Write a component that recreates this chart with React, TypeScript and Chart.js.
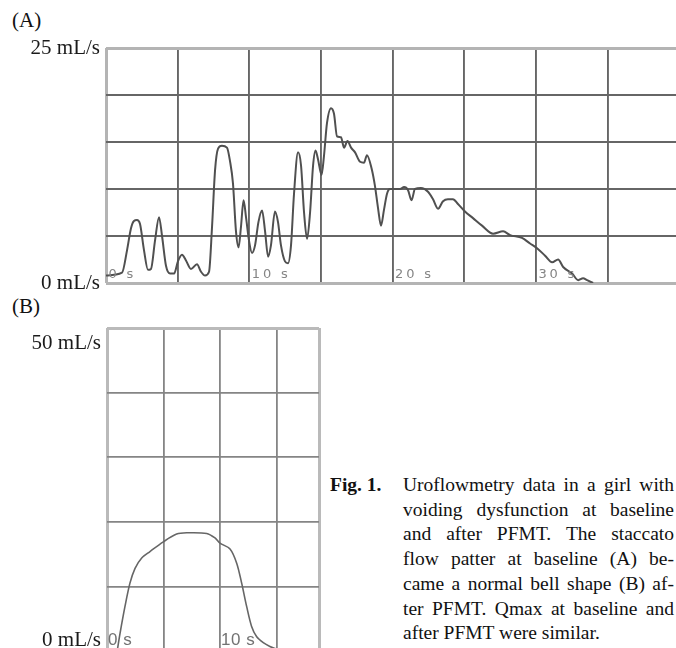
import React, { useEffect, useRef } from 'react';
import { Chart, registerables } from 'chart.js';

Chart.register(...registerables);

// ---- Panel A (baseline) ----
const timeA = [0.0, 1.12, 1.47, 1.74, 1.95, 2.16, 2.37, 2.65, 2.93, 3.14, 3.42, 3.70, 3.91, 4.19, 4.47, 4.75, 5.02, 5.30, 5.58, 5.93, 6.35, 6.63, 6.91, 7.19, 7.40, 7.61, 7.82, 8.09, 8.44, 8.65, 8.86, 9.07, 9.25, 9.42, 9.60, 9.77, 9.98, 10.19, 10.40, 10.64, 10.89, 11.10, 11.31, 11.51, 11.79, 12.00, 12.21, 12.49, 12.70, 12.91, 13.12, 13.40, 13.61, 13.82, 14.03, 14.24, 14.45, 14.62, 14.79, 15.04, 15.21, 15.42, 15.70, 15.91, 16.12, 16.40, 16.61, 16.85, 17.10, 17.38, 17.73, 18.00, 18.21, 18.53, 18.77, 18.98, 19.19, 19.40, 19.61, 19.82, 20.17, 20.52, 20.80, 21.07, 21.32, 21.56, 21.98, 22.47, 22.82, 23.17, 23.52, 23.86, 24.21, 24.56, 25.05, 25.61, 26.24, 27.01, 27.71, 28.20, 29.03, 29.59, 30.08, 30.64, 31.13, 31.55, 31.90, 32.53, 32.95, 33.29, 33.57, 33.99];
const flowA = [0.8, 1.1, 3.5, 5.8, 6.6, 6.7, 6.3, 3.5, 1.4, 1.5, 4.5, 7.0, 5.0, 1.8, 1.0, 1.0, 2.3, 3.0, 2.4, 1.5, 2.0, 1.2, 0.8, 1.2, 6.0, 12.0, 14.3, 14.6, 14.4, 13.0, 10.6, 5.5, 3.8, 6.0, 8.8, 7.0, 4.5, 3.2, 4.0, 6.5, 7.7, 5.5, 2.8, 4.0, 7.6, 6.5, 4.0, 2.3, 2.1, 4.0, 9.5, 13.9, 12.5, 7.5, 4.7, 7.5, 12.5, 14.1, 13.2, 11.5, 13.5, 17.0, 18.6, 18.0, 15.6, 15.5, 14.4, 15.1, 14.4, 13.9, 12.9, 12.8, 13.6, 12.2, 10.3, 8.0, 6.1, 7.8, 9.5, 10.0, 10.0, 10.0, 10.2, 9.9, 8.8, 10.0, 10.1, 9.7, 8.9, 7.9, 8.7, 8.9, 8.9, 8.4, 7.6, 6.9, 6.1, 5.25, 5.5, 5.1, 4.8, 4.2, 3.7, 2.9, 2.2, 2.5, 1.7, 1.0, 0.3, 0.5, 0.3, 0.0];
const xTicksA = [0, 5, 10, 15, 20, 25, 30, 35, 40];
const xLabelsA = [0, 10, 20, 30];
const xMaxA = 41.45;
const yMaxA = 25;
const yStepA = 5;

// ---- Panel B (after PFMT) ----
const timeB = [0.9, 1.15, 1.59, 2.03, 2.48, 3.07, 3.80, 4.98, 6.16, 7.05, 8.82, 9.55, 9.99, 10.88, 11.47, 11.91, 12.35, 12.79, 13.24, 13.82, 14.41, 14.85, 15.47];
const flowB = [0, 2.7, 6.9, 10.5, 12.8, 14.4, 15.4, 16.9, 18.1, 18.3, 18.2, 17.5, 16.7, 15.8, 13.6, 10.5, 6.9, 3.8, 2.2, 1.3, 0.7, 0.4, 0.2];
const xTicksB = [0, 5, 10, 15, 18.75];
const xLabelsB = [0, 10];
const xMaxB = 18.75;
const yMaxB = 50;
const yStepB = 10;

const captionLines = [
  'Uroflowmetry data in a girl with',
  'voiding dysfunction at baseline',
  'and after PFMT. The staccato',
  'flow patter at baseline (A) be-',
  'came a normal bell shape (B) af-',
  'ter PFMT. Qmax at baseline and',
  'after PFMT were similar.',
];

// Draws the time labels inside the plot, just above the baseline, at the x scale's pixels.
const insideLabels = (labels: number[], font: string, color: string, spacing: string, dx: number, dy: number) => ({
  id: 'insideTimeLabels',
  afterDatasetsDraw(chart: any) {
    const { ctx, chartArea, scales } = chart;
    ctx.save();
    ctx.font = font;
    ctx.fillStyle = color;
    (ctx as any).letterSpacing = spacing;
    ctx.textAlign = 'left';
    ctx.textBaseline = 'alphabetic';
    labels.forEach((v) => {
      ctx.fillText(`${v} s`, scales.x.getPixelForValue(v) + dx, chartArea.bottom - dy);
    });
    (ctx as any).letterSpacing = '0px';
    ctx.restore();
  },
});

const noPad = (s: any) => {
  s.paddingTop = 0;
  s.paddingBottom = 0;
  s.paddingLeft = 0;
  s.paddingRight = 0;
};

export default function App() {
  const refA = useRef<HTMLCanvasElement | null>(null);
  const refB = useRef<HTMLCanvasElement | null>(null);

  useEffect(() => {
    const edgeA = (v: number, max: number) => v === 0 || v === max;
    const chartA = new Chart(refA.current as HTMLCanvasElement, {
      type: 'line',
      data: {
        datasets: [
          {
            data: timeA.map((t, i) => ({ x: t, y: flowA[i] })),
            borderColor: '#505050',
            borderWidth: 2,
            pointRadius: 0,
            cubicInterpolationMode: 'monotone',
            fill: false,
          },
        ],
      },
      options: {
        animation: false,
        responsive: false,
        events: [],
        layout: { autoPadding: false, padding: { top: 48, bottom: 7, left: 0, right: 0 } },
        plugins: { legend: { display: false }, tooltip: { enabled: false } },
        scales: {
          x: {
            type: 'linear',
            min: 0,
            max: xMaxA,
            afterBuildTicks: (s: any) => {
              s.ticks = xTicksA.map((v) => ({ value: v }));
            },
            afterFit: (s: any) => {
              s.height = 0;
              noPad(s);
            },
            grid: {
              drawTicks: false,
              color: (c: any) => (c.tick && c.tick.value === 0 ? '#b4b4b4' : '#666666'),
              lineWidth: (c: any) => (c.tick && c.tick.value === 0 ? 3 : 1.9),
            },
            border: { display: false },
            ticks: { display: false },
          },
          y: {
            type: 'linear',
            min: 0,
            max: yMaxA,
            afterFit: (s: any) => {
              s.width = 106;
              noPad(s);
            },
            grid: {
              drawTicks: false,
              color: (c: any) => (c.tick && edgeA(c.tick.value, yMaxA) ? '#b4b4b4' : '#666666'),
              lineWidth: (c: any) => (c.tick && edgeA(c.tick.value, yMaxA) ? 3 : 1.9),
            },
            border: { display: false },
            ticks: {
              stepSize: yStepA,
              autoSkip: false,
              padding: 6,
              color: '#1a1a1a',
              font: { family: '"Liberation Serif"', size: 21 },
              callback: (v: any) => (v === 0 ? '0 mL/s' : v === yMaxA ? `${yMaxA} mL/s` : ''),
            },
          },
        },
      } as any,
      plugins: [insideLabels(xLabelsA, '13px "DejaVu Sans"', '#858585', '2.8px', 2.5, 5.5)],
    });

    const edgeX = (v: number) => v === 0 || v === xMaxB;
    const edgeY = (v: number) => v === 0 || v === yMaxB;
    const chartB = new Chart(refB.current as HTMLCanvasElement, {
      type: 'line',
      data: {
        datasets: [
          {
            data: timeB.map((t, i) => ({ x: t, y: flowB[i] })),
            borderColor: '#666666',
            borderWidth: 1.6,
            pointRadius: 0,
            tension: 0.3,
            fill: false,
          },
        ],
      },
      options: {
        animation: false,
        responsive: false,
        events: [],
        layout: { autoPadding: false, padding: { top: 28, bottom: 9, left: 0, right: 11 } },
        plugins: { legend: { display: false }, tooltip: { enabled: false } },
        scales: {
          x: {
            type: 'linear',
            min: 0,
            max: xMaxB,
            afterBuildTicks: (s: any) => {
              s.ticks = xTicksB.map((v) => ({ value: v }));
            },
            afterFit: (s: any) => {
              s.height = 0;
              noPad(s);
            },
            grid: {
              drawTicks: false,
              color: (c: any) => (c.tick && edgeX(c.tick.value) ? '#bababa' : '#858585'),
              lineWidth: (c: any) => (c.tick && edgeX(c.tick.value) ? 3 : 1.8),
            },
            border: { display: false },
            ticks: { display: false },
          },
          y: {
            type: 'linear',
            min: 0,
            max: yMaxB,
            afterFit: (s: any) => {
              s.width = 107;
              noPad(s);
            },
            grid: {
              drawTicks: false,
              color: (c: any) => (c.tick && edgeY(c.tick.value) ? '#bababa' : '#858585'),
              lineWidth: (c: any) => (c.tick && edgeY(c.tick.value) ? 3 : 1.8),
            },
            border: { display: false },
            ticks: {
              stepSize: yStepB,
              autoSkip: false,
              padding: 6,
              color: '#1a1a1a',
              font: (c: any) => ({
                family: '"Liberation Serif"',
                size: 21,
                lineHeight: c.tick && c.tick.value === yMaxB ? '31px' : '22px',
              }),
              callback: (v: any) =>
                v === 0 ? ['0 mL/s', ''] : v === yMaxB ? ['', `${yMaxB} mL/s`] : '',
            },
          },
        },
      } as any,
      plugins: [insideLabels(xLabelsB, '17px "Liberation Sans"', '#727272', '0.5px', 1, 6)],
    });

    return () => {
      chartA.destroy();
      chartB.destroy();
    };
  }, []);

  const serif = '"Liberation Serif", "Times New Roman", serif';
  return (
    <div
      style={{
        position: 'absolute',
        left: 0,
        top: 0,
        width: 676,
        height: 648,
        overflow: 'hidden',
        background: '#ffffff',
        fontFamily: serif,
        color: '#111111',
      }}
    >
      <div style={{ position: 'absolute', left: 12, top: 7, fontSize: 21, lineHeight: '26px' }}>(A)</div>
      <canvas ref={refA} width={700} height={290} style={{ position: 'absolute', left: 0, top: 0, display: 'block' }} />
      <div style={{ position: 'absolute', left: 12, top: 293, fontSize: 21, lineHeight: '26px' }}>(B)</div>
      <canvas ref={refB} width={330} height={360} style={{ position: 'absolute', left: 0, top: 300, display: 'block' }} />
      <div
        style={{
          position: 'absolute',
          left: 330,
          top: 473,
          width: 344,
          fontSize: 19.5,
          lineHeight: '24.7px',
        }}
      >
        <div style={{ position: 'absolute', left: 0, top: 0, fontWeight: 'bold' }}>Fig. 1.</div>
        <div style={{ marginLeft: 73, width: 271 }}>
          {captionLines.map((line, i) => {
            const last = i === captionLines.length - 1;
            return (
              <div
                key={i}
                style={{
                  textAlign: last ? 'left' : 'justify',
                  textAlignLast: last ? 'auto' : 'justify',
                } as any}
              >
                {line}
              </div>
            );
          })}
        </div>
      </div>
    </div>
  );
}
